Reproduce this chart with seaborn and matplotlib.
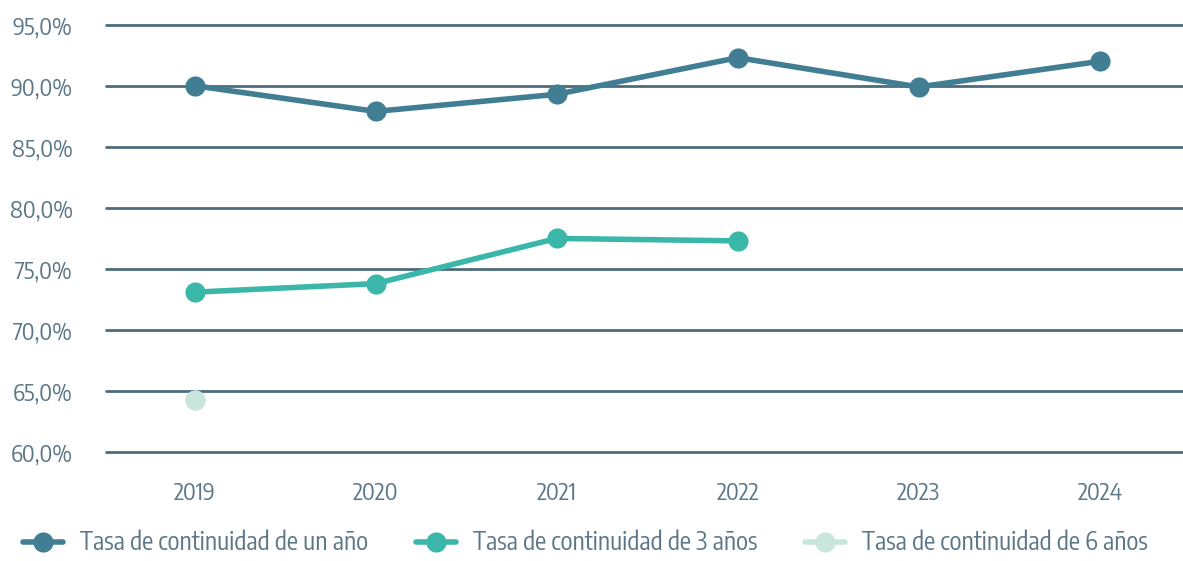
import matplotlib
matplotlib.use("Agg")
import matplotlib.pyplot as plt
import numpy as np
import pandas as pd
import seaborn as sns

years = [2019, 2020, 2021, 2022, 2023, 2024]
tasa_un_ano = [90.0, 87.9, 89.3, 92.3, 89.9, 92.0]
tasa_3_anos = [73.1, 73.8, 77.5, 77.3, np.nan, np.nan]
tasa_6_anos = [64.3, np.nan, np.nan, np.nan, np.nan, np.nan]
series_names = ["Tasa de continuidad de un año",
                "Tasa de continuidad de 3 años",
                "Tasa de continuidad de 6 años"]
y_ticks = [60, 65, 70, 75, 80, 85, 90, 95]

colors = ["#417e94", "#3bb7aa", "#c9e6dc"]
grid_color = "#4d6b7b"
text_color = "#5b7686"

sns.set_theme(style="white")
plt.rcParams["font.family"] = ["Encode Sans Condensed", "DejaVu Sans"]

df = pd.DataFrame({
    "year": years * 3,
    "value": tasa_un_ano + tasa_3_anos + tasa_6_anos,
    "serie": [series_names[0]] * 6 + [series_names[1]] * 6 + [series_names[2]] * 6,
})

fig = plt.figure(figsize=(11.83, 5.61), dpi=100)
ax = fig.add_axes([0.0896, 0.194, 0.9104, 0.762])

for name, col in zip(series_names, colors):
    sub = df[df["serie"] == name]
    sns.lineplot(data=sub, x="year", y="value", ax=ax, color=col,
                 linewidth=4.0, marker="o", markersize=14.5, markeredgewidth=0,
                 zorder=3, legend=False)
    # a series with a single value still shows its marker
    pts = sub.dropna()
    if len(pts) == 1:
        ax.plot(pts["year"], pts["value"], "o", color=col, markersize=14.5,
                markeredgewidth=0, zorder=3)

ax.set_xlim(2018.51, 2024.46)
ax.set_ylim(60, 95)
ax.set_yticks(y_ticks)
ax.set_yticklabels([f"{v:.1f}%".replace(".", ",") for v in y_ticks])
ax.set_xticks(years)
ax.set_xticklabels([str(y) for y in years])
for ln in ax.lines:
    ln.set_clip_on(False)

ax.grid(axis="y", color=grid_color, linewidth=2.0, zorder=1)
for gl in ax.yaxis.get_gridlines():
    gl.set_clip_on(False)
ax.set_axisbelow(True)
for s in ax.spines.values():
    s.set_visible(False)
ax.set_xlabel("")
ax.set_ylabel("")
ax.tick_params(axis="y", colors=text_color, labelsize=17, length=0, pad=24)
ax.tick_params(axis="x", colors=text_color, labelsize=17, length=0, pad=21)

handles = [plt.Line2D([], [], color=c, linewidth=4.0, marker="o", markersize=14.5,
                      markeredgewidth=0) for c in colors]
fig.legend(handles, series_names, loc="lower left", bbox_to_anchor=(0.0, -0.032),
           ncol=3, frameon=False, fontsize=18, handlelength=1.6,
           handletextpad=0.7, columnspacing=1.9, labelcolor=text_color)

fig.savefig("out.png", dpi=100)
